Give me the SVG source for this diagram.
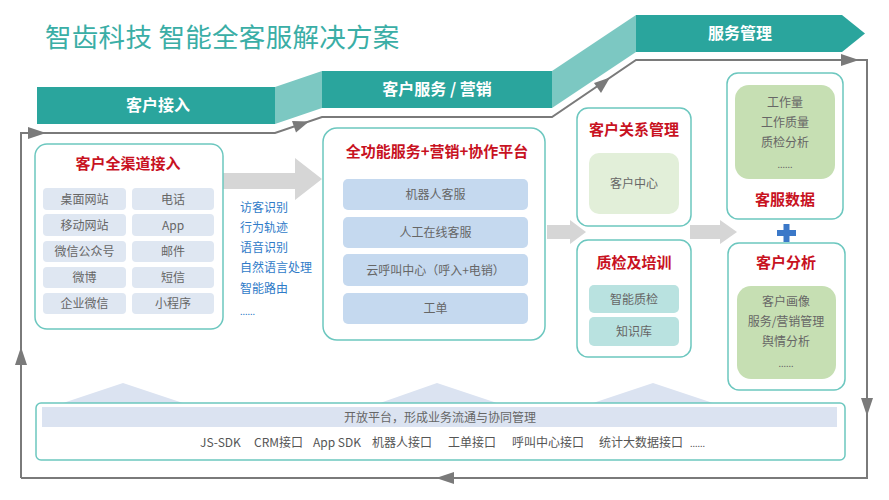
<svg xmlns="http://www.w3.org/2000/svg" width="889" height="500" viewBox="0 0 889 500">
<defs>
<style>
text{font-family:"Noto Sans CJK SC","Noto Sans",sans-serif;}
.title{font-size:26.5px;fill:#3aaea6;letter-spacing:0.3px;}
.ban{fill:#2aa59d;}
.banl{fill:#7cc8c2;}
.bt{font-size:16px;font-weight:bold;fill:#fff;text-anchor:middle;}
.box{fill:#fff;stroke:#6cc7bf;stroke-width:1.5;}
.red{font-size:15px;font-weight:bold;fill:#c8121f;text-anchor:middle;}
.it{font-size:12px;fill:#666;text-anchor:middle;}
.ch{fill:#dfe7f2;}
.pl{fill:#c5d9ef;}
.gl{fill:#e2efd9;}
.gr{fill:#c6dfb3;}
.cy{fill:#b9e2e0;}
.blue{font-size:12px;fill:#2f7bc8;}
.conn{fill:none;stroke:#7a7a7a;stroke-width:2;}
.ah{fill:#7a7a7a;}
.garr{fill:#d6d6d6;}
.tri{fill:#dbe3f1;}
.api{font-size:12px;fill:#555;}
</style>
</defs>
<rect width="889" height="500" fill="#fff"/>
<text class="title" x="45" y="47">智齿科技 智能全客服解决方案</text>

<g id="banners">
<rect class="ban" x="37" y="87" width="238" height="37"/>
<polygon class="banl" points="275,87 322,71 322,108 275,124"/>
<rect class="ban" x="322" y="71" width="230" height="37"/>
<polygon class="banl" points="552,71 636,15 636,52 552,108"/>
<polygon class="ban" points="636,15 842,15 865,33.5 842,52 636,52"/>
<text class="bt" x="158" y="111">客户接入</text>
<text class="bt" x="437" y="95">客户服务 / 营销</text>
<text class="bt" x="740" y="39">服务管理</text>
</g>

<g id="connectors">
<polyline class="conn" points="21,478 21,133 275,133 322,117 552,117 636,60 867,60 867,478 21,478"/>
<polygon class="ah" points="46,133 28,127 28,139"/>
<polygon class="ah" points="309,121.5 292,121 296,132.5"/>
<polygon class="ah" points="610,77.5 594,83 601,93"/>
<polygon class="ah" points="859,60 841,54 841,66"/>
<polygon class="ah" points="867,416 861,398 873,398"/>
<polygon class="ah" points="436,478 454,472 454,484"/>
<polygon class="ah" points="21,347 15,365 27,365"/>
<polygon class="garr" points="223,173 295,173 295,158 322,179 295,200 295,189 223,189"/>
<polygon class="garr" points="547,225 570,225 570,220 586,232 570,244 570,239 547,239"/>
<polygon class="garr" points="690,225 720,225 720,220 737,232 720,244 720,239 690,239"/>
</g>

<g id="channel">
<rect class="box" x="35" y="144" width="188" height="185" rx="12"/>
<text class="red" x="128" y="169">客户全渠道接入</text>
<rect class="ch" x="43" y="188" width="83" height="22" rx="4"/>
<rect class="ch" x="132" y="188" width="82" height="22" rx="4"/>
<rect class="ch" x="43" y="214" width="83" height="22" rx="4"/>
<rect class="ch" x="132" y="214" width="82" height="22" rx="4"/>
<rect class="ch" x="43" y="241" width="83" height="21" rx="4"/>
<rect class="ch" x="132" y="241" width="82" height="21" rx="4"/>
<rect class="ch" x="43" y="267" width="83" height="21" rx="4"/>
<rect class="ch" x="132" y="267" width="82" height="21" rx="4"/>
<rect class="ch" x="43" y="293" width="83" height="21" rx="4"/>
<rect class="ch" x="132" y="293" width="82" height="21" rx="4"/>
<text class="it" x="84.5" y="203.5">桌面网站</text>
<text class="it" x="173" y="203.5">电话</text>
<text class="it" x="84.5" y="229.5">移动网站</text>
<text class="it" x="173" y="229.5">App</text>
<text class="it" x="84.5" y="255.5">微信公众号</text>
<text class="it" x="173" y="255.5">邮件</text>
<text class="it" x="84.5" y="281.5">微博</text>
<text class="it" x="173" y="281.5">短信</text>
<text class="it" x="84.5" y="307.5">企业微信</text>
<text class="it" x="173" y="307.5">小程序</text>
</g>

<g id="ai-list">
<text class="blue" x="240" y="212">访客识别</text>
<text class="blue" x="240" y="232">行为轨迹</text>
<text class="blue" x="240" y="252">语音识别</text>
<text class="blue" x="240" y="272">自然语言处理</text>
<text class="blue" x="240" y="293">智能路由</text>
<text class="blue" x="240" y="315" style="font-size:9px">......</text>
</g>

<g id="platform">
<rect class="box" x="323" y="128" width="222" height="212" rx="14"/>
<text class="red" x="437" y="157">全功能服务+营销+协作平台</text>
<rect class="pl" x="343" y="179" width="185" height="31" rx="5"/>
<rect class="pl" x="343" y="217" width="185" height="31" rx="5"/>
<rect class="pl" x="343" y="254" width="185" height="32" rx="5"/>
<rect class="pl" x="343" y="293" width="185" height="31" rx="5"/>
<text class="it" x="435.5" y="199">机器人客服</text>
<text class="it" x="435.5" y="237">人工在线客服</text>
<text class="it" x="435.5" y="274.5">云呼叫中心（呼入+电销）</text>
<text class="it" x="435.5" y="313">工单</text>
</g>

<g id="crm">
<rect class="box" x="577" y="108" width="114" height="118" rx="11"/>
<text class="red" x="634" y="135">客户关系管理</text>
<rect class="gl" x="589" y="153" width="90" height="61" rx="10"/>
<text class="it" x="634" y="187.5">客户中心</text>
</g>

<g id="qa">
<rect class="box" x="577" y="240" width="114" height="117" rx="11"/>
<text class="red" x="634" y="268">质检及培训</text>
<rect class="cy" x="589" y="285" width="90" height="28" rx="5"/>
<rect class="cy" x="589" y="317" width="90" height="29" rx="5"/>
<text class="it" x="634" y="303.5">智能质检</text>
<text class="it" x="634" y="335.5">知识库</text>
</g>

<g id="service-data">
<rect class="box" x="727" y="73" width="116" height="146" rx="11"/>
<rect class="gr" x="735" y="85" width="100" height="94" rx="14"/>
<text class="it" x="785" y="107">工作量</text>
<text class="it" x="785" y="127">工作质量</text>
<text class="it" x="785" y="147">质检分析</text>
<text class="it" x="785" y="168" style="font-size:9px">......</text>
<text class="red" x="785" y="205">客服数据</text>
</g>

<g id="plus">
<rect x="777" y="230" width="19" height="6" fill="#3b78c8"/>
<rect x="783.5" y="224" width="6" height="18" fill="#3b78c8"/>
</g>

<g id="customer-analysis">
<rect class="box" x="728" y="243" width="117" height="147" rx="11"/>
<text class="red" x="786" y="268">客户分析</text>
<rect class="gr" x="737" y="286" width="99" height="93" rx="14"/>
<text class="it" x="786" y="306">客户画像</text>
<text class="it" x="786" y="326">服务/营销管理</text>
<text class="it" x="786" y="346">舆情分析</text>
<text class="it" x="786" y="367" style="font-size:9px">......</text>
</g>

<g id="open-platform">
<polygon class="tri" points="63,403 123,383 183,403"/>
<polygon class="tri" points="380,403 437,383 497,403"/>
<polygon class="tri" points="593,403 653,383 713,403"/>
<rect class="box" x="36" y="403" width="809" height="57" rx="5"/>
<rect class="tri" x="42" y="407" width="795" height="20"/>
<text class="it" x="440" y="422">开放平台，形成业务流通与协同管理</text>
<text class="api" x="200" y="447">JS-SDK</text>
<text class="api" x="254" y="447">CRM接口</text>
<text class="api" x="313" y="447">App SDK</text>
<text class="api" x="372" y="447">机器人接口</text>
<text class="api" x="448" y="447">工单接口</text>
<text class="api" x="512" y="447">呼叫中心接口</text>
<text class="api" x="599" y="447">统计大数据接口</text>
<text class="api" x="690" y="447" style="font-size:9px">......</text>
</g>
</svg>
